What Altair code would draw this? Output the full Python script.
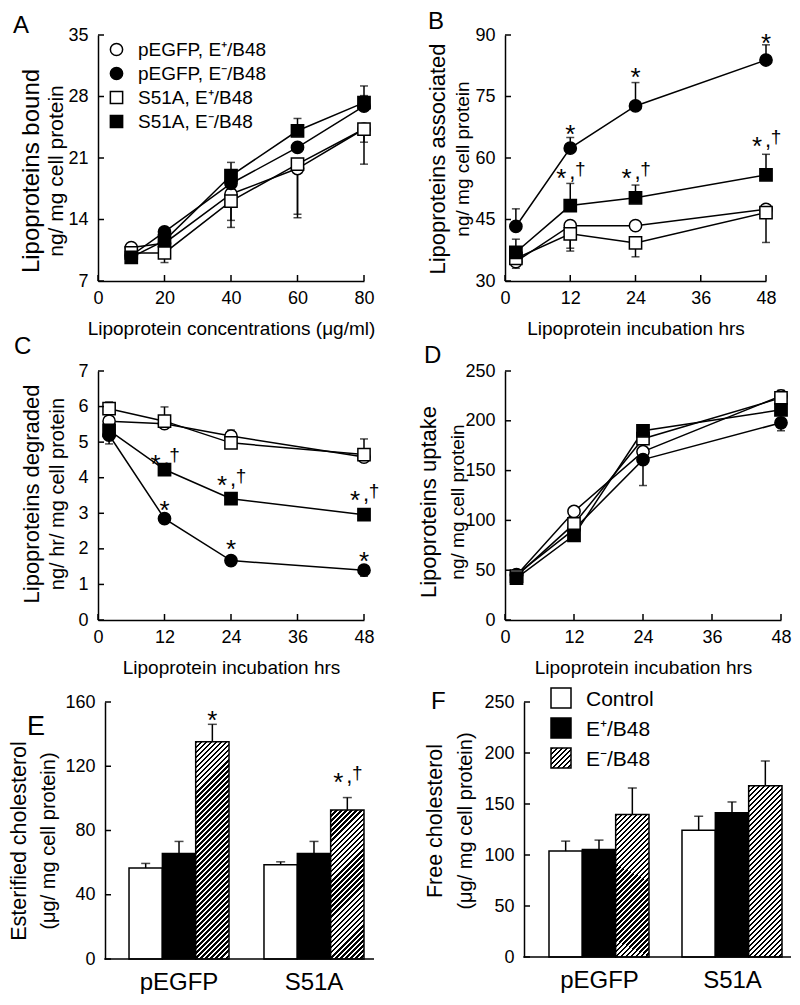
import altair as alt
import pandas as pd

FONT = "Liberation Sans"
SERIES = ["pEGFP, E\u207a/B48", "pEGFP, E\u207b/B48", "S51A, E\u207a/B48", "S51A, E\u207b/B48"]
SHAPES = ["circle", "circle", "square", "square"]
FILLS = ["white", "black", "white", "black"]

# ---------------- Panel A ----------------
A_x = [10, 20, 40, 60, 80]
A_open_circle = [10.8, 11.3, 16.9, 19.8, 24.3]
A_filled_circle = [9.9, 12.6, 18.1, 22.2, 26.9]
A_open_square = [10.2, 10.2, 16.1, 20.3, 24.3]
A_filled_square = [9.7, 11.6, 19.0, 24.1, 27.3]
A_open_circle_err = [None, None, 13.9, 14.2, 20.3]
A_filled_circle_err = [None, None, None, None, 28.1]
A_open_square_err = [None, 9.1, 13.1, 14.6, 22.8]
A_filled_square_err = [None, None, 20.5, 25.5, 29.2]

# ---------------- Panel B ----------------
T = [2, 12, 24, 48]
B_open_circle = [34.7, 43.5, 43.5, 47.5]
B_filled_circle = [43.3, 62.4, 72.7, 83.9]
B_open_square = [35.5, 41.5, 39.3, 46.7]
B_filled_square = [37.0, 48.4, 50.3, 55.9]
B_open_circle_err = [33.1, 38.0, None, None]
B_filled_circle_err = [47.6, 65.0, 78.4, 87.6]
B_open_square_err = [None, 37.3, 35.9, 39.4]
B_filled_square_err = [40.2, 53.8, 53.4, 60.9]
B_ann_x = [12, 24, 48, 12, 24, 48]
B_ann_y = [67.2, 81.1, 89.4, 56.7, 56.7, 64.4]
B_ann_k = ["*", "*", "*", "*,\u2020", "*,\u2020", "*,\u2020"]

# ---------------- Panel C ----------------
C_open_circle = [5.59, 5.52, 5.17, 4.58]
C_filled_circle = [5.20, 2.85, 1.67, 1.40]
C_open_square = [5.94, 5.59, 4.98, 4.65]
C_filled_square = [5.33, 4.23, 3.41, 2.96]
C_open_circle_err = [None, None, 5.34, None]
C_filled_circle_err = [4.95, None, None, 1.23]
C_open_square_err = [6.13, 5.99, None, 5.09]
C_filled_square_err = [None, None, None, None]
C_ann_x = [12, 24, 48, 12, 24, 48]
C_ann_y = [3.25, 2.17, 1.84, 4.56, 3.95, 3.53]
C_ann_k = ["*", "*", "*", "*,\u2020", "*,\u2020", "*,\u2020"]

# ---------------- Panel D ----------------
D_open_circle = [45, 109, 169, 225]
D_filled_circle = [45.6, 91, 161, 198]
D_open_square = [44, 96.5, 182, 223]
D_filled_square = [42, 85, 190, 211]
D_open_circle_err = [None, None, None, 230.6]
D_filled_circle_err = [None, None, 135, 190]
D_open_square_err = [None, None, None, None]
D_filled_square_err = [None, None, None, None]

# ---------------- Panels E, F ----------------
GROUPS = ["pEGFP", "S51A"]
CONDS = ["Control", "E\u207a/B48", "E\u207b/B48"]
CFILL = ["white", "black", "hatch"]
E_control = [56.6, 58.7]
E_eplus = [65.7, 65.7]
E_eminus = [135.3, 92.8]
E_control_err = [59.5, 60.5]
E_eplus_err = [73.2, 73.2]
E_eminus_err = [146.1, 100.5]
E_ann_g = ["pEGFP", "S51A"]
E_ann_y = [152.3, 114.0]
E_ann_k = ["*", "*,\u2020"]

F_control = [103.8, 124.3]
F_eplus = [105.4, 141.3]
F_eminus = [139.7, 167.8]
F_control_err = [113.6, 138.0]
F_eplus_err = [114.6, 152.0]
F_eminus_err = [165.8, 192.2]


def hatch(w, h, period=5.0, frac=0.5):
    n = max(1, int(round((w + h) / period)))
    k = (w + h) / (w * w + h * h)
    stops = []
    for i in range(n):
        a, b, c = i / n, (i + frac) / n, (i + 1) / n
        stops += [{"offset": a, "color": "black"}, {"offset": b, "color": "black"},
                  {"offset": b, "color": "white"}, {"offset": c, "color": "white"}]
    return {"gradient": "linear", "x1": 0, "y1": 0, "x2": k * w, "y2": k * h, "stops": stops}


def one():
    return pd.DataFrame({"a": [0]})


def txt(text, x, y, size, angle=0, align="center", baseline="middle"):
    return alt.Chart(one()).mark_text(
        text=text, font=FONT, fontSize=size, angle=angle, align=align,
        baseline=baseline, color="black").encode(x=alt.value(x), y=alt.value(y))


def ytitles(t1, x1, f1, t2, x2, f2, ty):
    return [txt(t1, x1, ty, f1, angle=270), txt(t2, x2, ty, f2, angle=270)]


def ann_layers(adf, xenc, yenc, extra=None):
    extra = extra or {}
    star = dict(font=FONT, color="black", baseline="alphabetic", align="center")
    l1 = alt.Chart(adf).transform_filter("datum.k == '*'").mark_text(
        text="*", fontSize=26, dy=15, **star).encode(x=xenc, y=yenc, **extra)
    l2 = alt.Chart(adf).transform_filter("datum.k != '*'").mark_text(
        text="*", fontSize=26, dy=15, dx=-9, **star).encode(x=xenc, y=yenc, **extra)
    l3 = alt.Chart(adf).transform_filter("datum.k != '*'").mark_text(
        text=",", fontSize=22, dy=7, dx=2, **star).encode(x=xenc, y=yenc, **extra)
    l4 = alt.Chart(adf).transform_filter("datum.k != '*'").mark_text(
        text="\u2020", fontSize=19, dy=3, dx=10, **star).encode(x=xenc, y=yenc, **extra)
    return [l1, l2, l3, l4]


def line_panel(x, vals, errs, xdom, xticks, ydom, yticks, w, h, xtitle,
               letter, lx, ly, titles, ann=None, legend=False, anchor=None):
    rows = []
    for i, s in enumerate(SERIES):
        for xv, yv, ev in zip(x, vals[i], errs[i]):
            rows.append(dict(x=xv, y=yv, e=ev, s=s, shape=SHAPES[i], fill=FILLS[i]))
    df = pd.DataFrame(rows)
    edf = df.dropna(subset=["e"])
    xs = alt.Scale(domain=xdom, nice=False, zero=False)
    ysc = alt.Scale(domain=ydom, nice=False, zero=False)
    AX = alt.Axis(values=xticks, title=xtitle, labelFlush=False, labelPadding=8, titlePadding=12)
    AY = alt.Axis(values=yticks, title=None, labelPadding=10)

    def Xf(f):
        return alt.X(f, type="quantitative", scale=xs, axis=AX)

    def Yf(f):
        return alt.Y(f, type="quantitative", scale=ysc, axis=AY)

    layers = [alt.Chart(df).mark_line(color="black", strokeWidth=1.5).encode(
        Xf("x"), Yf("y"), detail="s:N")]
    if len(edf):
        layers.append(alt.Chart(edf).mark_rule(color="black", strokeWidth=1.5).encode(
            Xf("x"), Yf("y"), y2="e:Q"))
        layers.append(alt.Chart(edf).mark_tick(color="black", thickness=1.5, size=8,
                                               orient="horizontal").encode(Xf("x"), Yf("e")))
    if legend:
        leg = alt.Legend(orient="none", legendX=10, legendY=5, title=None, labelFont=FONT,
                         labelFontSize=19, labelColor="black", symbolSize=150,
                         symbolStrokeWidth=1.5, rowPadding=4, labelOffset=12)
        enc = dict(
            shape=alt.Shape("s:N", scale=alt.Scale(domain=SERIES, range=SHAPES), legend=leg),
            fill=alt.Fill("s:N", scale=alt.Scale(domain=SERIES, range=FILLS), legend=leg),
            stroke=alt.Stroke("s:N", scale=alt.Scale(domain=SERIES, range=["black"] * 4), legend=leg))
    else:
        enc = dict(shape=alt.Shape("shape:N", scale=None), fill=alt.Fill("fill:N", scale=None))
    layers.append(alt.Chart(df).mark_point(filled=True, stroke="black", strokeWidth=1.5,
                                           size=150, opacity=1).encode(Xf("x"), Yf("y"), **enc))
    # inward ticks
    layers.append(alt.Chart(pd.DataFrame({"v": yticks})).mark_rule(color="black", strokeWidth=1.5).encode(
        y=Yf("v"), x=alt.value(0), x2=alt.value(6)))
    layers.append(alt.Chart(pd.DataFrame({"v": xticks})).mark_rule(color="black", strokeWidth=1.5).encode(
        x=Xf("v"), y=alt.value(h), y2=alt.value(h - 6)))
    if ann is not None:
        adf = pd.DataFrame({"x": ann[0], "y": ann[1], "k": ann[2]})
        layers += ann_layers(adf, Xf("x"), Yf("y"))
    layers += ytitles(*titles)
    layers.append(txt(letter, lx, ly, 24, align="left", baseline="alphabetic"))
    if anchor is not None:
        layers.append(alt.Chart(one()).mark_point(opacity=0, size=1).encode(
            x=alt.value(anchor[0]), y=alt.value(anchor[1])))
    return alt.layer(*layers).properties(width=w, height=h)


def bar_panel(vals, errs, ymax, yticks, w, h, off, pi, po, al, letter, lsize, lx, ly, titles,
              ann=None, legend=None):
    rows = []
    for j, c in enumerate(CONDS):
        for i, g in enumerate(GROUPS):
            rows.append(dict(g=g, c=c, v=vals[j][i], e=errs[j][i], fill=CFILL[j]))
    df = pd.DataFrame(rows)
    xsc = alt.Scale(domain=GROUPS, paddingInner=pi, paddingOuter=po, align=al)
    AXB = alt.Axis(title=None, labelAngle=0, labelFontSize=24, labelPadding=11, domain=False)
    X = alt.X("g:N", sort=GROUPS, scale=xsc, axis=AXB)
    XO = alt.XOffset("c:N", sort=CONDS, scale=alt.Scale(domain=CONDS, paddingInner=0, paddingOuter=0))
    ysc = alt.Scale(domain=[0, ymax], nice=False)
    AY = alt.Axis(values=yticks, title=None, labelPadding=10, offset=-off)

    def Yf(f):
        return alt.Y(f, type="quantitative", scale=ysc, axis=AY)

    layers = [alt.Chart(df[df.fill != "hatch"]).mark_bar(stroke="black", strokeWidth=1.5).encode(
        X, XO, Yf("v"), fill=alt.Fill("fill:N", scale=None))]
    step = w / (len(GROUPS) - pi + 2 * po)
    bw = step * (1 - pi) / len(CONDS)
    for _, r in df[df.fill == "hatch"].iterrows():
        hp = r.v / ymax * h
        layers.append(alt.Chart(pd.DataFrame([r])).mark_bar(
            stroke="black", strokeWidth=1.5, fill=hatch(bw, hp)).encode(X, XO, Yf("v")))
    layers.append(alt.Chart(df).mark_rule(color="black", strokeWidth=1.5).encode(
        X, XO, Yf("v"), y2="e:Q"))
    layers.append(alt.Chart(df).mark_tick(color="black", thickness=1.5, size=9,
                                          orient="horizontal").encode(X, XO, Yf("e")))
    # x baseline (from the y axis to the right edge) and inward y ticks
    layers.append(alt.Chart(one()).mark_rule(color="black", strokeWidth=1.5).encode(
        x=alt.value(off - 0.75), x2=alt.value(w), y=alt.value(h)))
    layers.append(alt.Chart(pd.DataFrame({"v": yticks})).mark_rule(color="black", strokeWidth=1.5).encode(
        y=Yf("v"), x=alt.value(off), x2=alt.value(off + 6)))
    if ann is not None:
        adf = pd.DataFrame({"g": ann[0], "c": [CONDS[2]] * len(ann[0]), "y": ann[1], "k": ann[2]})
        layers += ann_layers(adf, X, Yf("y"), extra={"xOffset": XO})
    if legend is not None:
        sw = 20
        lx0, tx0 = legend
        ys_ = [-14, 16, 46]
        for j, c in enumerate(CONDS):
            f = "white" if j == 0 else ("black" if j == 1 else hatch(sw, sw))
            layers.append(alt.Chart(one()).mark_rect(stroke="black", strokeWidth=1.5, fill=f).encode(
                x=alt.value(lx0), x2=alt.value(lx0 + sw), y=alt.value(ys_[j]), y2=alt.value(ys_[j] + sw)))
            layers.append(txt(c, tx0, ys_[j] + 18, 21, align="left", baseline="alphabetic"))
    layers += ytitles(*titles)
    layers.append(txt(letter, lx, ly, lsize, align="left", baseline="alphabetic"))
    return alt.layer(*layers).properties(width=w, height=h)


A = line_panel(A_x, [A_open_circle, A_filled_circle, A_open_square, A_filled_square],
               [A_open_circle_err, A_filled_circle_err, A_open_square_err, A_filled_square_err],
               [0, 80], [0, 20, 40, 60, 80], [7, 35], [7, 14, 21, 28, 35], 266, 246,
               "Lipoprotein concentrations (\u03bcg/ml)", "A", -85, -2,
               ("Lipoproteins bound", -66, 24, "ng/ mg cell protein", -41, 21, 136), legend=True,
               anchor=(-89, -26))
B = line_panel(T, [B_open_circle, B_filled_circle, B_open_square, B_filled_square],
               [B_open_circle_err, B_filled_circle_err, B_open_square_err, B_filled_square_err],
               [0, 48], [0, 12, 24, 36, 48], [30, 90], [30, 45, 60, 75, 90], 261, 246,
               "Lipoprotein incubation hrs", "B", -77, -6,
               ("Lipoproteins associated", -67, 22, "ng/ mg cell protein", -42, 19, 124),
               ann=(B_ann_x, B_ann_y, B_ann_k))
C = line_panel(T, [C_open_circle, C_filled_circle, C_open_square, C_filled_square],
               [C_open_circle_err, C_filled_circle_err, C_open_square_err, C_filled_square_err],
               [0, 48], [0, 12, 24, 36, 48], [0, 7], [0, 1, 2, 3, 4, 5, 6, 7], 266, 249,
               "Lipoprotein incubation hrs", "C", -84, -17,
               ("Lipoproteins degraded", -66, 22, "ng/ hr/ mg cell protein", -40, 20, 123),
               ann=(C_ann_x, C_ann_y, C_ann_k))
D = line_panel(T, [D_open_circle, D_filled_circle, D_open_square, D_filled_square],
               [D_open_circle_err, D_filled_circle_err, D_open_square_err, D_filled_square_err],
               [0, 48], [0, 12, 24, 36, 48], [0, 250], [0, 50, 100, 150, 200, 250], 276, 249,
               "Lipoprotein incubation hrs", "D", -81, -8,
               ("Lipoproteins uptake", -76, 22, "ng/ mg cell protein", -47, 19, 131))
E = bar_panel([E_control, E_eplus, E_eminus], [E_control_err, E_eplus_err, E_eminus_err],
              160, [0, 40, 80, 120, 160], 276, 257, 7, 0.259, 0.152, 0.756, "E", 27, -71, 33,
              ("Esterified cholesterol", -78, 21.5, "(\u03bcg/ mg cell protein)", -49, 20, 139),
              ann=(E_ann_g, E_ann_y, E_ann_k))
F = bar_panel([F_control, F_eplus, F_eminus], [F_control_err, F_eplus_err, F_eminus_err],
              250, [0, 50, 100, 150, 200, 250], 286, 255, 19, 0.2406, 0.1955, 0.846, "F", 24, -74, 7,
              ("Free cholesterol", -69, 21.5, "(\u03bcg/ mg cell protein)", -39, 20, 119),
              legend=(46, 81))


def spacer(w, h):
    return alt.Chart(one()).mark_point(opacity=0).encode(
        x=alt.X("a:Q", axis=None), y=alt.Y("a:Q", axis=None)).properties(width=w, height=h)


chart = alt.concat(
    spacer(1, 254), A, spacer(131, 10), B,
    spacer(1, 10), C, spacer(131, 10), D,
    spacer(1, 10), E, spacer(131, 10), F,
    columns=4, spacing={"row": 82, "column": 0}, bounds="flush",
).properties(
    padding={"left": 0, "top": 0, "right": 0, "bottom": 0}, background="white"
).configure_view(stroke=None).configure_axis(
    labelFont=FONT, titleFont=FONT, labelFontSize=18, titleFontSize=19, titleFontWeight="normal",
    labelColor="black", titleColor="black", domainColor="black", domainWidth=1.5, ticks=False,
    grid=False, labelOverlap=False)

chart.save("out.html", embed_options={"renderer": "svg", "actions": False})
